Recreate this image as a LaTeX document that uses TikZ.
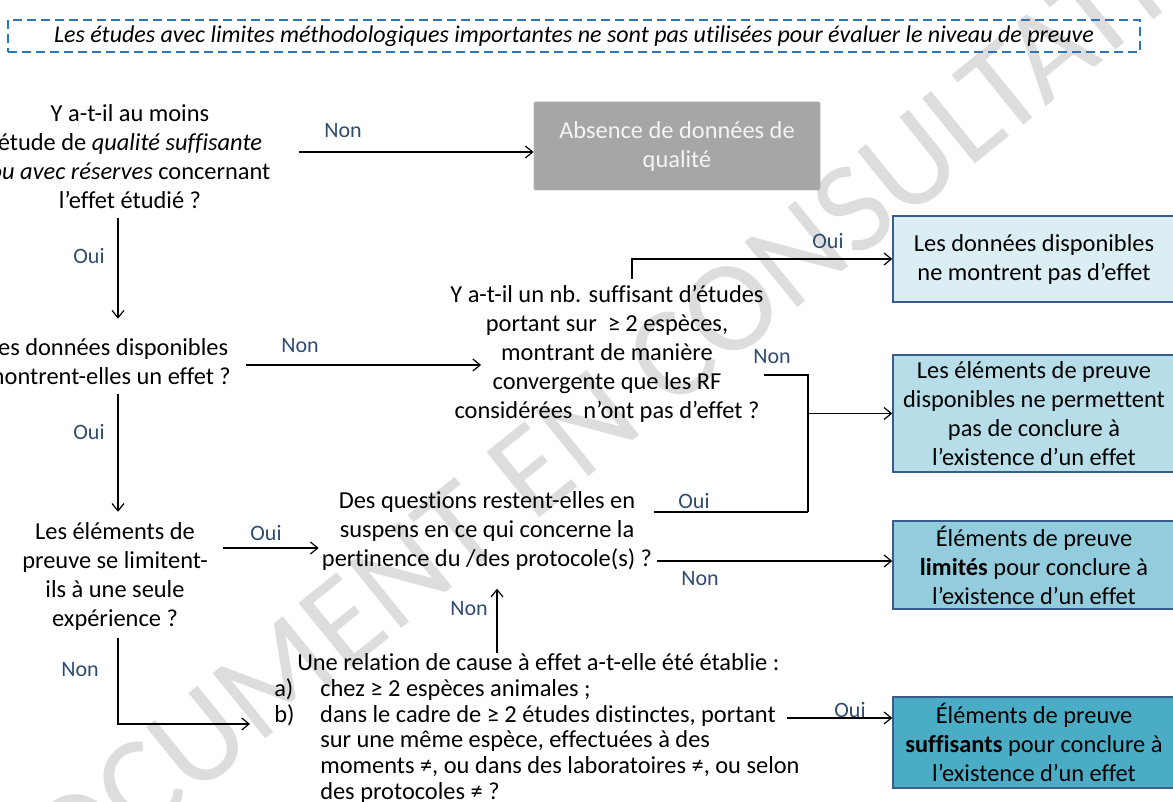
\documentclass[tikz,border=0pt]{standalone}
\usepackage{fontspec}
\setmainfont{Carlito}[RawFeature={-liga;-clig;-dlig;-calt}]
\usetikzlibrary{arrows.meta,calc}
\definecolor{lblc}{HTML}{2F4B70}
\definecolor{dashc}{HTML}{2E75B6}
\definecolor{bordc}{HTML}{385D8A}
\definecolor{fillA}{HTML}{DBEEF4}
\definecolor{fillB}{HTML}{B7DEE8}
\definecolor{fillC}{HTML}{93CDDD}
\definecolor{fillD}{HTML}{4BACC6}
\definecolor{greyfill}{HTML}{A6A6A6}
\definecolor{greytext}{HTML}{F4F4F4}
\definecolor{wmc}{HTML}{DDDDDD}
\begin{document}
\begin{tikzpicture}[x=0.75pt,y=-0.75pt,
  qtext/.style={inner sep=0pt, align=center, font=\fontsize{18.3}{21.75}\selectfont},
  lbl/.style={inner sep=0pt, text=lblc, font=\fontsize{16.5}{19}\selectfont},
  result/.style={draw=bordc, line width=1.6pt, inner sep=0pt, align=center,
    minimum width=211pt, font=\fontsize{18.3}{21.75}\selectfont},
  arr/.style={draw, line width=0.9pt, -{Straight Barb[length=5.5pt,width=9pt]}},
  plain/.style={draw, line width=0.9pt}]
\useasboundingbox (0,0) rectangle (1173,802);
\clip (0,0) rectangle (1173,802);

% watermark
\node[rotate=39, inner sep=0pt, text=wmc, font=\fontsize{98}{98}\selectfont] (wm) at (630,390) {DOCUMENT EN CONSULTATION};

% header note
\node[draw=dashc, dash pattern=on 7pt off 3.5pt, line width=1.1pt, minimum width=849pt,
  minimum height=24pt, inner sep=0pt, font=\itshape\fontsize{18}{20}\selectfont] (note) at (574,36)
  {Les études avec limites méthodologiques importantes ne sont pas utilisées pour évaluer le niveau de preuve};

% questions
\node[qtext] (q1) at (130,157) {Y a-t-il au moins\\ étude de \emph{qualité suffisante}\\ \emph{ou avec réserves} concernant\\ l’effet étudié ?};
\node[qtext] (q2) at (108,362) {Les données disponibles\\ montrent-elles un effet ?};
\node[qtext] (q3) at (607,354) {Y a-t-il un nb. suffisant d’études\\ portant sur~ ≥ 2 espèces,\\ montrant de manière\\ convergente que les RF\\ considérées~ n’ont pas d’effet ?};
\node[qtext] (q4) at (487,531) {Des questions restent-elles en\\ suspens en ce qui concerne la\\ pertinence du /des protocole(s) ?};
\node[qtext] (q5) at (115,576) {Les éléments de\\ preuve se limitent-\\ ils à une seule\\ expérience ?};
\node[inner sep=0pt, align=left, anchor=west, font=\fontsize{18.3}{19.35}\selectfont] (q6) at (274,728.5)
  {\hspace*{17.25pt}Une relation de cause à effet a-t-elle été établie :\\
   \makebox[34.5pt][l]{a)}chez ≥ 2 espèces animales ;\\
   \makebox[34.5pt][l]{b)}dans le cadre de ≥ 2 études distinctes, portant\\
   \hspace*{34.5pt}sur une même espèce, effectuées à des\\
   \hspace*{34.5pt}moments ≠, ou dans des laboratoires ≠, ou selon\\
   \hspace*{34.5pt}des protocoles ≠ ?};

% results
\node[fill=greyfill, draw=greyfill!85, line width=0.6pt, rounded corners=1pt, inner sep=0pt, align=center,
  minimum width=214.5pt, minimum height=66pt, text=greytext, font=\fontsize{18.3}{21.75}\selectfont]
  (abs) at (677,146) {Absence de données de\\ qualité};
\node[result, fill=fillA, minimum height=64.5pt] (b1) at (1034,259) {Les données disponibles\\ ne montrent pas d’effet};
\node[result, fill=fillB, minimum height=87.75pt] (b2) at (1034,413.5) {Les éléments de preuve\\ disponibles ne permettent\\ pas de conclure à\\ l’existence d’un effet};
\node[result, fill=fillC, minimum height=66pt] (b3) at (1034,565) {Éléments de preuve\\ \textbf{limités} pour conclure à\\ l’existence d’un effet};
\node[result, fill=fillD, minimum height=68pt] (b4) at (1034,742.5) {Éléments de preuve\\ \textbf{suffisants} pour conclure à\\ l’existence d’un effet};

% junction
\coordinate (jn) at (808,512);

% connectors
\draw[arr] ([xshift=21pt,yshift=3.75pt]q1.east) coordinate (s1) -- (s1 -| abs.west);
\draw[arr] ([xshift=-9pt,yshift=-6.75pt]q1.south) coordinate (s2) -- ([yshift=15pt]s2 |- q2.north);
\draw[arr] ([xshift=11.25pt,yshift=-2.25pt]q2.east) coordinate (s3) -- ([xshift=23.25pt]s3 -| q3.west);
\draw[arr] ([xshift=7.5pt,yshift=-6.75pt]q2.south) coordinate (s4) -- ([yshift=7.5pt]s4 |- q5.north);
\draw[arr] ([xshift=18.75pt,yshift=4.5pt]q3.north) |- (b1.west);
\draw[plain] ([yshift=-15.75pt]q3.east) -| (jn);
\draw[plain] ([xshift=1.5pt]q4.east |- jn) -- (jn);
\draw[arr] (jn |- b2.west) -- (b2.west);
\draw[arr] ([xshift=3.75pt,yshift=-22.5pt]q4.east) coordinate (s7) -- (s7 -| b3.west);
\draw[arr] ([xshift=11.25pt,yshift=21pt]q5.east) coordinate (s8) -- ([xshift=-2.25pt]s8 -| q4.west);
\draw[arr] ([xshift=2.25pt,yshift=-6pt]q5.south) |- ([xshift=-18pt,yshift=3.4pt]q6.west);
\draw[arr] ([xshift=7.5pt]q4.south |- q6.north) -- ([xshift=7.5pt,yshift=-13.5pt]q4.south);
\draw[arr] ([xshift=-9.75pt,yshift=7.9pt]q6.east) coordinate (s11) -- (s11 -| b4.west);

% labels
\node[lbl] (l1) at (343,131) {Non};
\node[lbl] (l2) at (89,256) {Oui};
\node[lbl] (l3) at (300,346) {Non};
\node[lbl] (l4) at (89,432) {Oui};
\node[lbl] (l5) at (828,241) {Oui};
\node[lbl] (l6) at (772,357) {Non};
\node[lbl] (l7) at (694,501) {Oui};
\node[lbl] (l8) at (266,533) {Oui};
\node[lbl] (l9) at (700,579) {Non};
\node[lbl] (l10) at (469,609) {Non};
\node[lbl] (l11) at (80,670) {Non};
\node[lbl] (l12) at (850,710) {Oui};
\end{tikzpicture}
\end{document}
